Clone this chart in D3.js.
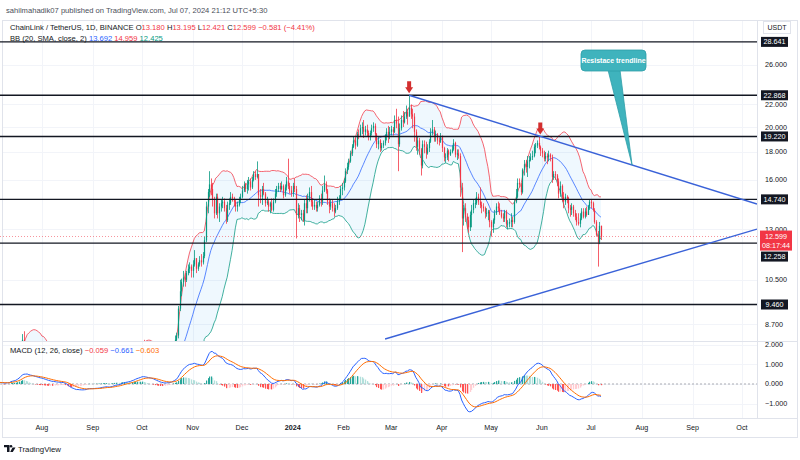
<!DOCTYPE html>
<html><head><meta charset="utf-8">
<script src="https://cdn.jsdelivr.net/npm/d3@7"></script>
<style>
body{margin:0;background:#fff}
svg{display:block}
text{font-family:"Liberation Sans Narrow","Liberation Sans",Arial,sans-serif}
</style>
</head><body>
<svg id="c" width="800" height="460"></svg>
<script>
// ---------------- DATA ----------------
const startDate = "2023-06-20";
// daily closes, LINK/USDT (Jun 20 2023 .. Jul 7 2024)
const closes = [
 // Jun 20-30 2023
 5.75,6.05,5.9,6.1,5.95,5.85,5.7,5.9,5.6,5.75,6.2,
 // Jul 2023
 6.25,6.3,6.45,6.15,6.0,5.85,6.0,5.95,5.9,6.05,6.2,6.1,6.8,6.55,6.6,6.75,7.15,7.45,7.9,8.15,8.0,7.7,7.8,7.4,7.5,7.6,7.5,7.45,7.55,7.4,7.5,
 // Aug 2023
 7.55,7.4,7.35,7.3,7.25,7.3,7.2,7.4,7.3,7.3,7.3,7.35,7.3,7.35,7.1,6.85,6.3,6.2,6.15,6.25,6.1,6.0,6.3,6.1,6.1,6.1,6.15,6.15,6.45,6.25,6.1,
 // Sep 2023
 6.05,6.1,6.1,6.05,6.1,6.15,6.25,6.2,6.2,6.05,5.85,6.15,6.2,6.45,6.4,6.35,6.35,6.6,6.75,6.8,6.75,6.75,6.85,6.9,7.25,7.2,7.5,7.6,7.6,7.75,
 // Oct 2023
 7.95,7.75,7.6,7.55,7.5,7.55,7.5,7.4,7.2,7.15,7.1,7.0,7.05,7.1,7.1,7.3,7.4,7.45,7.6,7.95,8.15,8.3,9.3,10.0,10.4,10.6,10.5,10.8,11.0,11.1,10.9,
 // Nov 2023
 11.2,11.5,11.0,11.2,11.4,11.3,11.6,12.4,14.3,15.2,15.7,15.4,14.7,13.9,14.9,13.9,14.3,14.5,14.6,14.2,13.5,14.4,14.5,14.9,14.8,14.6,14.3,14.4,14.7,14.9,
 // Dec 2023
 15.3,15.7,15.4,15.7,15.9,15.5,16.0,16.4,16.2,16.4,15.0,14.9,15.4,15.1,14.5,14.6,14.3,14.5,14.1,14.6,15.1,15.4,15.6,15.4,15.6,15.0,15.5,15.9,15.6,15.3,15.1,
 // Jan 2024
 15.6,15.4,13.8,14.2,13.8,13.9,13.5,14.5,14.2,14.8,15.2,14.6,14.3,14.4,14.2,14.4,14.8,14.6,15.3,15.7,15.3,14.6,14.3,14.5,14.2,14.0,14.2,14.6,14.8,15.4,15.5,
 // Feb 2024
 15.9,16.6,16.9,17.3,17.9,18.4,18.9,18.5,19.4,19.3,19.9,20.0,19.6,19.8,19.5,19.2,19.5,19.9,20.1,19.4,18.6,18.9,18.3,18.5,18.7,19.2,19.6,19.3,19.6,
 // Mar 2024
 19.8,19.6,20.6,20.3,18.6,19.9,20.6,20.4,20.9,21.3,20.9,21.7,21.1,20.9,19.6,18.4,18.9,18.2,17.0,18.6,18.4,17.9,18.3,18.8,19.5,19.8,19.2,19.4,18.9,18.8,19.2,
 // Apr 2024
 18.3,17.6,17.6,18.1,17.8,18.0,18.2,18.7,17.8,17.9,17.7,15.5,13.6,14.2,13.7,13.5,13.1,13.8,14.1,14.5,14.5,14.9,14.6,14.4,14.3,14.2,13.9,13.9,14.0,13.4,
 // May 2024
 13.1,13.5,13.9,14.3,14.2,13.9,13.7,13.6,14.0,13.3,13.3,13.4,13.5,13.4,14.6,14.9,15.8,15.7,15.2,16.7,17.1,16.9,17.3,17.4,17.6,17.7,18.4,18.5,18.7,18.4,18.1,
 // Jun 2024
 17.9,17.5,17.7,17.6,17.8,17.6,16.2,16.4,16.3,15.9,15.1,15.6,14.9,14.6,14.9,14.8,14.2,14.1,14.3,13.9,13.7,13.4,13.3,13.6,14.0,13.7,14.0,13.8,14.3,14.6,
 // Jul 1-7 2024
 14.5,14.1,13.4,12.7,12.3,13.18,12.599
];
const highs = [
 5.8,6.15,6.15,6.25,6.15,6.05,5.95,5.95,5.9,5.85,6.35,
 6.35,6.4,6.55,6.5,6.2,6.2,6.05,6.05,6.05,6.1,6.25,6.3,6.9,7.0,6.7,6.85,7.3,7.6,8.05,8.35,8.45,8.1,7.9,7.8,7.55,7.7,7.75,7.6,7.6,7.6,7.6,
 7.6,7.65,7.45,7.45,7.35,7.35,7.35,7.45,7.5,7.4,7.4,7.4,7.4,7.45,7.4,7.15,6.9,6.35,6.3,6.3,6.25,6.15,6.35,6.35,6.2,6.15,6.2,6.2,6.65,6.5,6.35,
 6.2,6.15,6.15,6.15,6.15,6.2,6.3,6.3,6.25,6.2,6.1,6.3,6.3,6.55,6.5,6.45,6.4,6.75,6.85,6.9,6.85,6.8,6.9,7.1,7.3,7.3,7.65,7.7,7.75,7.8,
 8.0,8.15,7.8,7.65,7.6,7.65,7.6,7.55,7.45,7.25,7.2,7.15,7.1,7.15,7.2,7.5,7.45,7.5,7.7,8.05,8.3,8.4,9.4,10.5,10.55,10.9,10.8,10.9,11.2,11.3,11.2,
 11.4,11.9,11.5,11.3,11.6,11.7,11.8,12.6,14.6,15.4,16.6,16.1,15.8,14.9,15.1,15.1,14.5,14.7,14.9,14.8,14.4,14.6,14.8,15.2,15.1,14.9,14.7,14.6,14.9,15.1,
 15.6,15.9,15.8,16.0,16.2,16.1,16.2,16.6,16.6,17.3,16.4,15.4,15.6,15.8,15.2,14.9,14.7,14.6,14.8,14.8,15.4,15.6,15.8,15.8,15.9,15.7,15.7,16.2,17.5,15.8,15.6,
 15.8,16.1,15.6,14.5,14.4,14.1,14.1,14.7,15.0,15.1,15.5,15.6,14.8,14.7,14.6,14.6,15.0,15.1,15.6,16.3,15.9,15.4,14.8,14.7,14.7,14.5,14.4,14.9,15.0,15.6,15.8,
 16.1,16.8,17.2,17.5,18.1,18.6,19.2,19.1,19.6,19.8,20.2,20.4,20.6,20.1,20.2,19.7,19.7,20.2,20.4,20.3,19.5,19.2,19.0,18.7,18.9,19.4,19.9,20.1,20.0,
 20.1,20.0,21.0,21.6,20.9,20.3,21.0,21.4,21.3,21.9,21.6,22.868,22.0,21.6,21.2,19.8,19.2,19.1,18.3,18.9,18.9,18.8,18.6,19.0,19.9,20.6,20.0,19.7,19.5,19.1,19.5,
 19.3,18.4,17.9,18.3,18.2,18.2,18.5,19.0,18.8,18.2,18.2,17.9,15.8,14.4,14.5,13.9,13.7,14.0,14.4,14.7,14.8,15.2,15.1,15.5,14.6,14.5,14.3,14.2,14.1,14.1,
 13.5,13.6,14.1,14.5,14.6,14.5,14.1,13.9,14.1,14.1,13.5,13.6,13.9,13.7,14.7,15.4,16.1,16.1,15.8,16.8,17.4,17.4,17.7,17.7,17.9,18.1,18.6,18.7,18.9,19.22,18.5,
 18.3,18.1,18.0,17.9,18.1,17.9,17.8,16.6,16.6,16.4,16.1,15.9,15.7,15.2,15.1,15.0,14.9,14.4,14.5,14.4,14.1,13.9,13.9,13.9,14.2,14.2,14.2,14.3,14.4,14.7,
 14.7,14.6,14.2,13.5,12.9,13.4,13.195
];
const lows = [
 5.45,5.7,5.85,5.85,5.85,5.8,5.6,5.65,5.55,5.55,5.7,
 6.1,6.1,6.25,6.1,5.9,5.8,5.8,5.9,5.85,5.8,6.0,6.05,6.05,6.4,6.5,6.55,6.7,7.0,7.4,7.8,7.9,7.6,7.6,7.3,7.35,7.45,7.45,7.4,7.4,7.35,7.35,
 7.3,7.3,7.3,7.25,7.2,7.2,7.05,7.15,7.25,7.25,7.25,7.3,7.25,7.25,7.05,6.8,5.8,6.0,6.05,6.1,5.95,5.8,5.95,6.05,6.0,6.05,6.05,6.05,6.1,6.2,6.0,
 5.95,6.0,6.05,6.0,5.95,6.0,6.1,6.1,6.15,6.0,5.75,5.85,6.05,6.15,6.3,6.3,6.25,6.3,6.55,6.65,6.6,6.65,6.7,6.8,6.85,7.1,7.15,7.4,7.5,7.55,
 7.7,7.7,7.5,7.45,7.4,7.45,7.45,7.35,7.05,7.05,7.0,6.95,6.95,7.0,7.05,7.05,7.2,7.3,7.35,7.55,7.9,8.05,8.2,9.2,9.8,10.2,10.2,10.4,10.7,10.8,10.6,
 10.6,11.1,10.8,10.9,11.1,11.1,11.2,11.5,12.3,13.9,14.9,15.0,14.3,13.6,13.8,13.6,13.4,14.0,14.2,14.0,13.3,13.4,14.1,14.4,14.6,14.3,14.0,14.0,14.3,14.5,
 14.8,15.2,15.2,15.1,15.3,15.3,15.4,15.9,16.0,16.1,14.3,14.5,14.4,15.0,14.3,14.4,14.0,13.9,14.0,14.0,14.5,14.9,15.2,15.2,15.3,14.8,14.9,15.3,15.4,15.1,14.9,
 14.9,15.2,12.5,13.6,13.4,13.5,13.4,13.2,13.9,13.9,14.6,14.3,14.1,14.1,14.0,14.0,14.3,14.3,14.4,15.2,15.1,14.4,13.9,14.1,14.0,13.7,13.9,14.1,14.4,14.7,15.0,
 15.3,15.8,16.4,16.7,17.2,17.7,18.3,18.2,18.4,19.0,19.2,19.4,19.1,19.3,19.2,18.9,18.9,19.3,19.6,18.9,18.3,18.2,18.0,18.1,18.3,18.5,18.9,18.7,19.0,
 19.3,19.3,19.5,19.9,16.6,18.4,19.7,20.0,20.3,20.7,20.2,20.9,20.7,19.9,18.8,18.1,17.8,17.8,16.3,16.8,17.9,17.5,17.8,18.0,18.7,19.3,18.8,18.8,18.6,18.5,18.7,
 18.0,17.3,17.2,17.4,17.3,17.7,17.9,18.1,17.6,17.4,17.5,14.9,11.8,13.2,13.4,13.0,12.8,12.9,13.1,13.9,14.2,14.4,14.4,14.2,13.9,14.0,13.6,13.7,13.5,13.1,
 12.6,12.8,13.3,13.8,14.0,13.8,13.6,13.4,13.4,13.1,13.0,13.1,13.1,13.1,13.3,14.5,14.8,15.5,15.0,15.1,16.3,16.5,16.2,16.8,17.3,17.4,17.6,17.9,18.3,18.2,17.7,
 17.6,17.3,17.3,17.1,17.3,17.3,15.8,16.0,16.0,15.6,14.8,14.9,14.6,14.2,14.4,14.5,13.9,13.7,13.8,13.7,13.5,13.2,13.2,13.1,13.5,13.6,13.6,13.7,13.8,14.1,
 14.2,14.0,13.3,12.6,11.1,12.2,12.421
];

const xDomain = ["2023-07-06T10:00", "2024-10-10T05:00"];
const priceRange = [31.28, 8.11];          // visible price pane (log)
const macdRange = [2.194, -1.735];         // visible MACD pane
const priceTicks = [26, 22, 20, 18, 16, 13, 10.5, 8.7];
const macdTicks = [2, 1, 0, -1];
const monthTicks = ["2023-08-01","2023-09-01","2023-10-01","2023-11-01","2023-12-01","2024-01-01","2024-02-01","2024-03-01","2024-04-01","2024-05-01","2024-06-01","2024-07-01","2024-08-01","2024-09-01","2024-10-01"];
const monthLabels = ["Aug","Sep","Oct","Nov","Dec","2024","Feb","Mar","Apr","May","Jun","Jul","Aug","Sep","Oct"];
const levels = [28.641, 22.868, 19.22, 14.74, 12.258, 9.46];
const lastPrice = 12.599;
const countdown = "08:17:44";
const resistanceLine = [["2024-03-12T00:00", 22.868], ["2024-10-10T05:00", 14.45]];
const supportLine = [["2024-02-26T08:00", 8.18], ["2024-10-10T05:00", 13.0]];
const arrowPoints = [["2024-03-12", 22.868], ["2024-05-31", 19.22]];
const calloutTip = ["2024-07-26", "Resistace trendline"];
const headerText = "sahilmahadik07 published on TradingView.com, Jul 07, 2024 21:12 UTC+5:30";
const symbolText = "ChainLink / TetherUS, 1D, BINANCE";
const ohlcLegend = ["13.180", "13.195", "12.421", "12.599"];
const changeLegend = "\u22120.581 (\u22124.41%)";
const bbLegend = ["13.692", "14.959", "12.425"];
const macdLegend = ["\u22120.059", "\u22120.661", "\u22120.603"];

// ---------------- SETUP ----------------
const C = {up:"#089981", down:"#F23645", text:"#131722", grid:"#f2f4f9", border:"#e0e3eb",
  bbBasis:"#2962FF", bbUp:"#F23645", bbLow:"#089981", macd:"#2962FF", signal:"#FF6D00", trend:"#3a62d8"};
const plotR = 757, pTop = 21, pBot = 341, mTop = 341, mBot = 418;
const svg = d3.select("#c");
const parseD = d3.timeParse("%Y-%m-%d");
const parseT = d3.timeParse("%Y-%m-%dT%H:%M");
const x = d3.scaleTime().domain(xDomain.map(parseT)).range([0, plotR]);
const y = d3.scaleLog().domain(priceRange).range([pTop, pBot]);
const ym = d3.scaleLinear().domain(macdRange).range([mTop, mBot]);

const d0 = parseD(startDate);
const bars = closes.map((c, i) => {
  const o = i ? closes[i-1] : c;
  return {d: d3.timeDay.offset(d0, i), o, c, h: Math.max(highs[i], o, c), l: Math.min(lows[i], o, c)};
});

// Bollinger (20, 2)
const bb = [];
for (let i = 19; i < closes.length; i++) {
  const w = closes.slice(i-19, i+1);
  const m = d3.mean(w);
  const sd = Math.sqrt(d3.mean(w, v => (v-m)*(v-m)));
  bb.push({d: bars[i].d, m, u: m + 2*sd, l: m - 2*sd});
}
// MACD (12, 26, 9)
function ema(arr, n) { const k = 2/(n+1); let p = arr[0]; return arr.map((v,i) => (p = i ? v*k + p*(1-k) : v)); }
const e12 = ema(closes, 12), e26 = ema(closes, 26);
const macd = closes.map((_, i) => e12[i] - e26[i]);
const sig = ema(macd, 9);
const hist = macd.map((v, i) => v - sig[i]);

// ---------------- FRAME / GRID ----------------
const defs = svg.append("defs");
defs.append("clipPath").attr("id","pclip").append("rect").attr("x",0).attr("y",pTop).attr("width",plotR).attr("height",pBot-pTop);
defs.append("clipPath").attr("id","mclip").append("rect").attr("x",0).attr("y",mTop).attr("width",plotR).attr("height",mBot-mTop);

svg.append("text").attr("x",6).attr("y",13).attr("font-size",7.6).attr("fill","#4a4e59").text(headerText);
svg.append("rect").attr("x",2.5).attr("y",20.5).attr("width",795).attr("height",417).attr("fill","none").attr("stroke",C.border);

const grid = svg.append("g").attr("stroke",C.grid).attr("stroke-width",1);
monthTicks.forEach(t => { const xx = Math.round(x(parseD(t)))+0.5;
  grid.append("line").attr("x1",xx).attr("x2",xx).attr("y1",pTop).attr("y2",mBot); });
priceTicks.forEach(p => { const yy = Math.round(y(p))+0.5;
  grid.append("line").attr("x1",3).attr("x2",plotR).attr("y1",yy).attr("y2",yy); });
macdTicks.forEach(v => { const yy = Math.round(ym(v))+0.5;
  grid.append("line").attr("x1",3).attr("x2",plotR).attr("y1",yy).attr("y2",yy); });

svg.append("line").attr("x1",3).attr("x2",797).attr("y1",mTop+0.5).attr("y2",mTop+0.5).attr("stroke",C.border);
svg.append("line").attr("x1",3).attr("x2",797).attr("y1",mBot+0.5).attr("y2",mBot+0.5).attr("stroke",C.border);
svg.append("line").attr("x1",plotR+0.5).attr("x2",plotR+0.5).attr("y1",pTop).attr("y2",mBot).attr("stroke",C.border);

// ---------------- PRICE PANE ----------------
const pg = svg.append("g").attr("clip-path","url(#pclip)");
// BB fill and lines
pg.append("path").datum(bb).attr("fill","rgba(33,150,243,0.07)")
  .attr("d", d3.area().x(d=>x(d.d)).y0(d=>y(d.l)).y1(d=>y(d.u)));
[["u",C.bbUp],["l",C.bbLow],["m",C.bbBasis]].forEach(([k,col]) => {
  pg.append("path").datum(bb).attr("fill","none").attr("stroke",col).attr("stroke-width",0.9).attr("opacity",0.85)
    .attr("d", d3.line().x(d=>x(d.d)).y(d=>y(d[k])));
});
// candles
const cg = pg.append("g");
bars.forEach(b => {
  const xx = Math.round(x(b.d)) + 0.5, col = b.c >= b.o ? C.up : C.down;
  cg.append("line").attr("x1",xx).attr("x2",xx).attr("y1",y(b.h)).attr("y2",y(b.l)).attr("stroke",col).attr("stroke-width",0.8);
  const y1 = y(Math.max(b.o,b.c)), y2 = y(Math.min(b.o,b.c));
  cg.append("rect").attr("x",xx-0.6).attr("width",1.2).attr("y",y1).attr("height",Math.max(0.8,y2-y1)).attr("fill",col);
});
// last price dotted line
pg.append("line").attr("x1",0).attr("x2",plotR).attr("y1",y(lastPrice)).attr("y2",y(lastPrice))
  .attr("stroke",C.down).attr("stroke-width",0.8).attr("stroke-dasharray","1,2").attr("opacity",0.7);
// horizontal levels
levels.forEach(p => { pg.append("line").attr("x1",0).attr("x2",plotR).attr("y1",y(p)).attr("y2",y(p))
  .attr("stroke","#131722").attr("stroke-width",1.4); });
// trendlines
[resistanceLine, supportLine].forEach(L => {
  pg.append("line").attr("x1",x(parseT(L[0][0]))).attr("y1",y(L[0][1])).attr("x2",x(parseT(L[1][0]))).attr("y2",y(L[1][1]))
    .attr("stroke",C.trend).attr("stroke-width",1.4);
});
// arrows
arrowPoints.forEach(([d,p]) => {
  const cx = x(parseD(d)), ty = y(p) - 2;
  pg.append("path").attr("fill","#d32f2f")
    .attr("d",`M${cx-2},${ty-12}H${cx+2}V${ty-6}H${cx+4}L${cx},${ty}L${cx-4},${ty-6}H${cx-2}Z`);
});
// callout
(function(){
  const r = resistanceLine, t0 = parseT(r[0][0]), t1 = parseT(r[1][0]);
  const td = parseD(calloutTip[0]);
  const f = (td - t0)/(t1 - t0);
  const tp = Math.exp(Math.log(r[0][1]) + f*(Math.log(r[1][1]) - Math.log(r[0][1])));
  const tx = x(td), ty = y(tp);
  const g = svg.append("g");
  g.append("path").attr("fill","#3fb3bd").attr("stroke","#2f9ea8").attr("stroke-width",0.8)
    .attr("d",`M${tx},${ty}L608,70L620,70Z`);
  g.append("rect").attr("x",581).attr("y",50).attr("width",65).attr("height",21).attr("rx",4)
    .attr("fill","#3fb3bd").attr("stroke","#2f9ea8").attr("stroke-width",0.8);
  g.append("text").attr("x",613.5).attr("y",63).attr("text-anchor","middle").attr("font-size",7)
    .attr("font-weight","bold").attr("fill","#fff").text(calloutTip[1]);
})();

// ---------------- MACD PANE ----------------
const mg = svg.append("g").attr("clip-path","url(#mclip)");
mg.append("line").attr("x1",0).attr("x2",plotR).attr("y1",ym(0)).attr("y2",ym(0))
  .attr("stroke","#9598a1").attr("stroke-dasharray","2,2").attr("stroke-width",0.8);
hist.forEach((h,i) => {
  const prev = i ? hist[i-1] : h;
  const col = h >= 0 ? (h > prev ? "#26A69A" : "#B2DFDB") : (h < prev ? "#FF5252" : "#FFCDD2");
  const xx = Math.round(x(bars[i].d));
  mg.append("rect").attr("x",xx).attr("width",1.2).attr("y",Math.min(ym(0),ym(h))).attr("height",Math.abs(ym(h)-ym(0)))
    .attr("fill",col);
});
mg.append("path").datum(macd).attr("fill","none").attr("stroke",C.macd).attr("stroke-width",1)
  .attr("d", d3.line().x((d,i)=>x(bars[i].d)).y(d=>ym(d)));
mg.append("path").datum(sig).attr("fill","none").attr("stroke",C.signal).attr("stroke-width",1)
  .attr("d", d3.line().x((d,i)=>x(bars[i].d)).y(d=>ym(d)));

// ---------------- AXES ----------------
const ax = svg.append("g").attr("font-size",7.2).attr("fill",C.text);
priceTicks.forEach(p => ax.append("text").attr("x",765).attr("y",y(p)+2.5).text(p.toFixed(3)));
macdTicks.forEach(v => ax.append("text").attr("x",765).attr("y",ym(v)+2.5).text(v<0? "\u2212"+Math.abs(v).toFixed(3) : v.toFixed(3)));
monthTicks.forEach((t,i) => ax.append("text").attr("x",x(parseD(t))).attr("y",430).attr("text-anchor","middle")
  .attr("font-weight", monthLabels[i]==="2024" ? "bold" : null).text(monthLabels[i]));

// USDT box
svg.append("rect").attr("x",763.5).attr("y",21.5).attr("width",27).attr("height",12).attr("fill","#fff").attr("stroke",C.border);
svg.append("text").attr("x",777).attr("y",30).attr("text-anchor","middle").attr("font-size",7).attr("fill",C.text).text("USDT");

// last price label
const ly = y(lastPrice);
svg.append("rect").attr("x",760).attr("y",ly-6).attr("width",32).attr("height",20).attr("fill",C.down);
svg.append("text").attr("x",776).attr("y",ly+2.5).attr("text-anchor","middle").attr("font-size",7.2).attr("fill","#fff").text(lastPrice.toFixed(3));
svg.append("text").attr("x",776).attr("y",ly+11).attr("text-anchor","middle").attr("font-size",7.2).attr("fill","#fff").text(countdown);
// level labels
levels.forEach(p => {
  let yy = y(p);
  if (yy+5 > ly-6 && yy-5 < ly+14) yy = ly + 20;
  svg.append("rect").attr("x",761).attr("y",yy-5).attr("width",27).attr("height",10).attr("fill","#131722");
  svg.append("text").attr("x",774.5).attr("y",yy+2.6).attr("text-anchor","middle").attr("font-size",7.2).attr("fill","#fff").text(p.toFixed(3));
});

// ---------------- LEGENDS ----------------
function legend(yy, parts) {
  const t = svg.append("text").attr("x",10).attr("y",yy).attr("font-size",7.6);
  parts.forEach(([s,col]) => t.append("tspan").attr("fill",col).text(s));
}
legend(30, [[symbolText+"  ",C.text],["O",C.text],[ohlcLegend[0],C.down],[" H",C.text],[ohlcLegend[1],C.down],
  [" L",C.text],[ohlcLegend[2],C.down],[" C",C.text],[ohlcLegend[3],C.down],[" "+changeLegend,C.down]]);
legend(41, [["BB (20, SMA, close, 2)  ",C.text],[bbLegend[0],C.bbBasis],["  "+bbLegend[1],C.bbUp],["  "+bbLegend[2],C.bbLow]]);
legend(353, [["MACD (12, 26, close)  ",C.text],[macdLegend[0],C.down],["  "+macdLegend[1],C.macd],["  "+macdLegend[2],C.signal]]);

// ---------------- LOGO ----------------
const lg = svg.append("g").attr("transform","translate(4,445)");
lg.append("path").attr("fill","#131722").attr("d","M0,0H5.5V7H3V2.3H0Z");
lg.append("circle").attr("cx",7).attr("cy",1.3).attr("r",1.3).attr("fill","#131722");
lg.append("path").attr("fill","#131722").attr("d","M8.5,2.6H11.5L8.8,7H6.2Z");
svg.append("text").attr("x",18).attr("y",452).attr("font-size",7.8).attr("fill","#131722").text("TradingView");
</script>
</body></html>
